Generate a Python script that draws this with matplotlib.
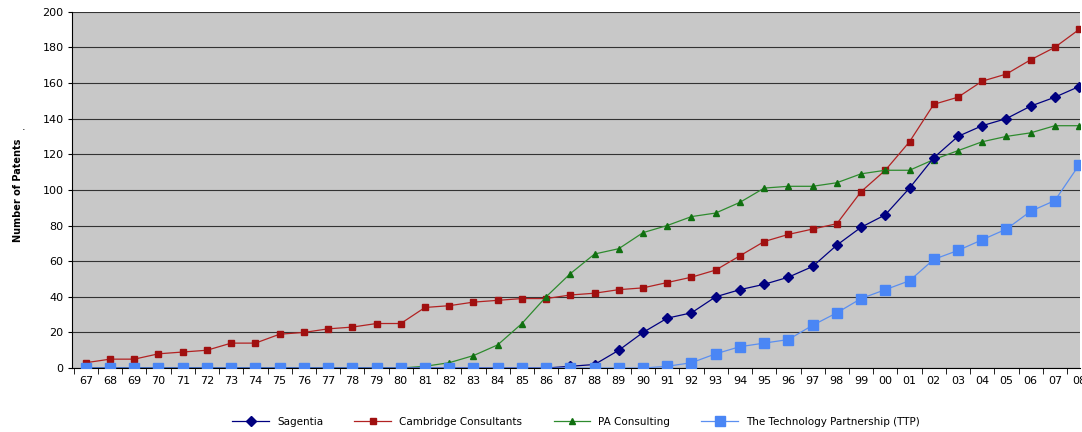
import numpy as np
import matplotlib.pyplot as plt

years = [f"{y % 100:02d}" for y in range(1967, 2009)]
sagentia = [0]*20 + [1, 2, 10, 20, 28, 31, 40, 44, 47, 51, 57, 69, 79, 86, 101, 118, 130, 136, 140, 147, 152, 158]
cambridge = [3, 5, 5, 8, 9, 10, 14, 14, 19, 20, 22, 23, 25, 25, 34, 35, 37, 38, 39, 39, 41, 42, 44, 45,
             48, 51, 55, 63, 71, 75, 78, 81, 99, 111, 127, 148, 152, 161, 165, 173, 180, 190]
pa = [0]*14 + [1, 3, 7, 13, 25, 40, 53, 64, 67, 76, 80, 85, 87, 93, 101, 102, 102, 104, 109, 111, 111,
               117, 122, 127, 130, 132, 136, 136]
ttp = [0]*24 + [1, 3, 8, 12, 14, 16, 24, 31, 39, 44, 49, 61, 66, 72, 78, 88, 94, 114]

x = np.arange(len(years))
fig = plt.figure(figsize=(10.82, 4.32), dpi=100)
ax = fig.add_axes([0.067, 0.148, 0.931, 0.825])
ax.set_facecolor('#C8C8C8')

ax.plot(x, sagentia, color='#000080', marker='D', markersize=5, lw=0.9, label='Sagentia', zorder=4)
ax.plot(x, cambridge, color='#B22222', marker='s', markersize=4.5, lw=0.9, markerfacecolor='#A01010',
        markeredgecolor='#A01010', label='Cambridge Consultants', zorder=3)
ax.plot(x, pa, color='#2E8B2E', marker='^', markersize=5, lw=0.9, markerfacecolor='#107010',
        markeredgecolor='#107010', label='PA Consulting', zorder=3)
ax.plot(x, ttp, color='#5B8FF0', marker='s', markersize=7, lw=0.9, markerfacecolor='#4A86F5',
        markeredgecolor='#4A86F5', label='The Technology Partnership (TTP)', zorder=5)

ax.set_xlim(-0.55, len(years) - 0.97)
ax.set_ylim(0, 200)
ax.set_yticks(range(0, 201, 20))
ax.set_xticks(x)
ax.set_xticklabels(years, fontsize=8)
ax.set_xticks(np.arange(-0.5, len(years) - 1, 1), minor=True)
ax.tick_params(axis='x', which='major', length=0, pad=6)
ax.tick_params(axis='x', which='minor', length=4)
ax.tick_params(axis='y', labelsize=8, length=3)
ax.grid(axis='y', color='#333333', lw=0.8)
ax.set_axisbelow(True)
for s in ['top', 'right']:
    ax.spines[s].set_visible(False)
ax.set_ylabel('Number of Patents', fontsize=7, fontweight='bold', labelpad=14)
fig.text(0.02, 0.7, '.', fontsize=8)

ax.legend(loc='upper center', bbox_to_anchor=(0.5, -0.11), ncol=4, frameon=False, fontsize=7.5,
          handlelength=3.5, columnspacing=3)
fig.savefig('out.png')
